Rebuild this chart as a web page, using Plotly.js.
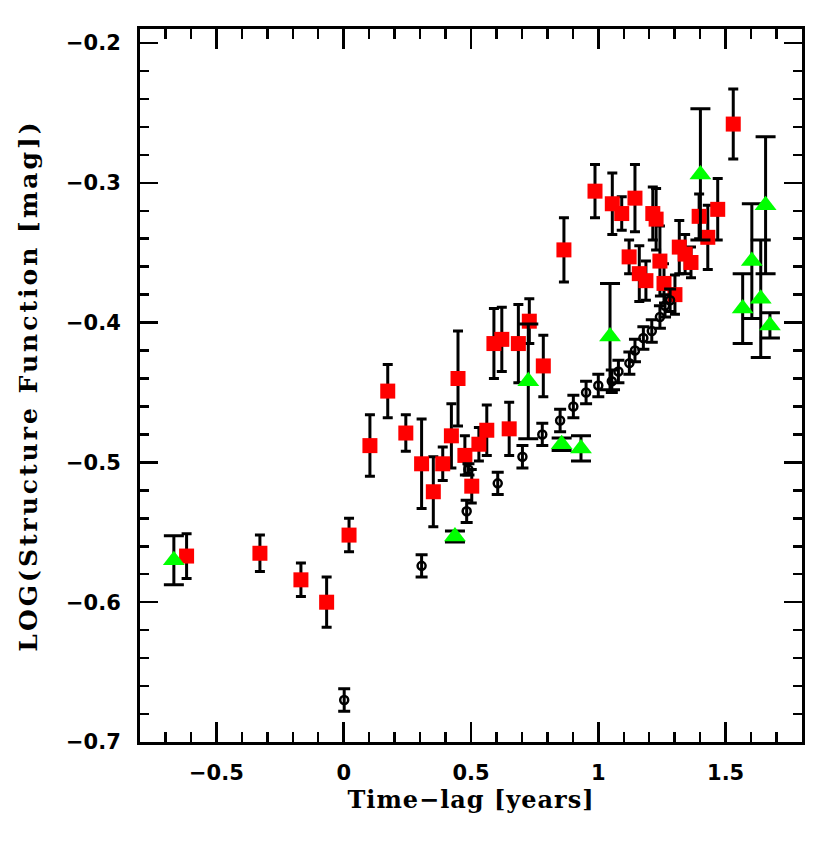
<!DOCTYPE html>
<html>
<head>
<meta charset="utf-8">
<script src="https://cdn.plot.ly/plotly-3.0.1.min.js"></script>
<style>
html,body{margin:0;padding:0;background:#fff;}
#chart{width:830px;height:842px;}
.ytitle{letter-spacing:3px;}
.xtitle{letter-spacing:1px;}
</style>
</head>
<body>
<div id="chart"></div>
<script>
// Red squares
const redX = [-0.617,-0.329,-0.168,-0.067,0.021,0.103,0.173,0.244,0.306,0.352,0.389,0.423,0.449,0.476,0.503,0.531,0.562,0.650,0.590,0.621,0.686,0.729,0.784,0.865,0.987,1.055,1.092,1.144,1.121,1.161,1.187,1.214,1.227,1.242,1.258,1.301,1.318,1.341,1.364,1.396,1.430,1.469,1.530];
const redY = [-0.567,-0.565,-0.584,-0.600,-0.552,-0.488,-0.449,-0.479,-0.501,-0.521,-0.501,-0.481,-0.440,-0.495,-0.517,-0.487,-0.477,-0.476,-0.415,-0.412,-0.415,-0.399,-0.431,-0.348,-0.306,-0.315,-0.322,-0.311,-0.353,-0.365,-0.370,-0.322,-0.326,-0.356,-0.372,-0.380,-0.346,-0.351,-0.357,-0.324,-0.339,-0.319,-0.258];
const redErr = [0.016,0.013,0.012,0.018,0.012,0.022,0.019,0.013,0.032,0.025,0.012,0.023,0.034,0.014,0.012,0.012,0.018,0.019,0.025,0.023,0.028,0.016,0.022,0.023,0.019,0.022,0.012,0.024,0.012,0.020,0.014,0.019,0.022,0.025,0.014,0.014,0.019,0.014,0.011,0.016,0.023,0.022,0.025];

// Green triangles
const greenX = [-0.667,0.437,0.725,0.856,0.932,1.046,1.401,1.567,1.603,1.638,1.657,1.674];
const greenY = [-0.570,-0.553,-0.442,-0.487,-0.490,-0.410,-0.294,-0.390,-0.356,-0.383,-0.316,-0.402];
const greenErr = [0.0175,0.004,0.041,0.0045,0.009,0.038,0.047,0.025,0.041,0.042,0.049,0.009];

// Black open circles
const blackX = [0.002,0.306,0.483,0.490,0.605,0.702,0.780,0.850,0.902,0.952,1.000,1.053,1.079,1.122,1.144,1.177,1.210,1.242,1.262,1.282];
const blackY = [-0.670,-0.574,-0.535,-0.505,-0.515,-0.496,-0.480,-0.470,-0.460,-0.450,-0.445,-0.442,-0.435,-0.429,-0.420,-0.411,-0.406,-0.396,-0.388,-0.384];
const blackErr = [0.008,0.008,0.008,0.004,0.008,0.008,0.008,0.008,0.008,0.008,0.008,0.008,0.008,0.008,0.008,0.008,0.008,0.008,0.008,0.008];

const xTickVals = [-0.5,0,0.5,1,1.5];
const xTickText = ["\u22120.5","0","0.5","1","1.5"];
const yTickVals = [-0.7,-0.6,-0.5,-0.4,-0.3,-0.2];
const yTickText = ["\u22120.7","\u22120.6","\u22120.5","\u22120.4","\u22120.3","\u22120.2"];

const traces = [
  {
    x: redX, y: redY, type: 'scatter', mode: 'markers',
    marker: {symbol: 'square', size: 15, color: '#ff0000'},
    error_y: {type: 'data', array: redErr, visible: true, color: '#000', thickness: 3, width: 5}
  },
  {
    x: blackX, y: blackY, type: 'scatter', mode: 'markers',
    marker: {symbol: 'circle-open', size: 8, color: '#000', line: {width: 2.5, color: '#000'}},
    error_y: {type: 'data', array: blackErr, visible: true, color: '#000', thickness: 3, width: 6}
  },
  {
    x: greenX, y: greenY, type: 'scatter', mode: 'markers',
    marker: {symbol: 'triangle-up', size: 19, color: '#00ff00'},
    error_y: {type: 'data', array: greenErr, visible: true, color: '#000', thickness: 3, width: 10}
  }
];

const axisFont = {family: 'DejaVu Sans', size: 21, color: '#000', weight: 'bold'};
const xTitleFont = {family: 'DejaVu Serif', size: 24, color: '#000', weight: 'bold'};
const yTitleFont = {family: 'DejaVu Serif', size: 25, color: '#000', weight: 'bold'};

const layout = {
  width: 830, height: 842,
  margin: {l: 140, r: 28, t: 29, b: 100},
  paper_bgcolor: '#fff', plot_bgcolor: '#fff',
  showlegend: false,
  xaxis: {
    range: [-0.8, 1.8],
    tickvals: xTickVals, ticktext: xTickText,
    ticks: 'inside', ticklen: 20, tickwidth: 2.5, tickcolor: '#000',
    minor: {dtick: 0.1, ticks: 'inside', ticklen: 10, tickwidth: 2.5, tickcolor: '#000'},
    showline: true, linewidth: 3, linecolor: '#000', mirror: 'allticks',
    showgrid: false, zeroline: false,
    tickfont: axisFont, ticklabelstandoff: 10,
    title: {text: 'Time\u2212lag [years]', font: xTitleFont, standoff: 7}
  },
  yaxis: {
    range: [-0.7, -0.19],
    tickvals: yTickVals, ticktext: yTickText,
    ticks: 'inside', ticklen: 18, tickwidth: 2.5, tickcolor: '#000',
    minor: {dtick: 0.02, ticks: 'inside', ticklen: 9, tickwidth: 2.5, tickcolor: '#000'},
    showline: true, linewidth: 3, linecolor: '#000', mirror: 'allticks',
    showgrid: false, zeroline: false,
    tickfont: axisFont, ticklabelstandoff: 12,
    title: {text: 'LOG(Structure Function [mag])', font: yTitleFont, standoff: 22}
  }
};

Plotly.newPlot('chart', traces, layout, {displayModeBar: false, staticPlot: true});
</script>
</body>
</html>
